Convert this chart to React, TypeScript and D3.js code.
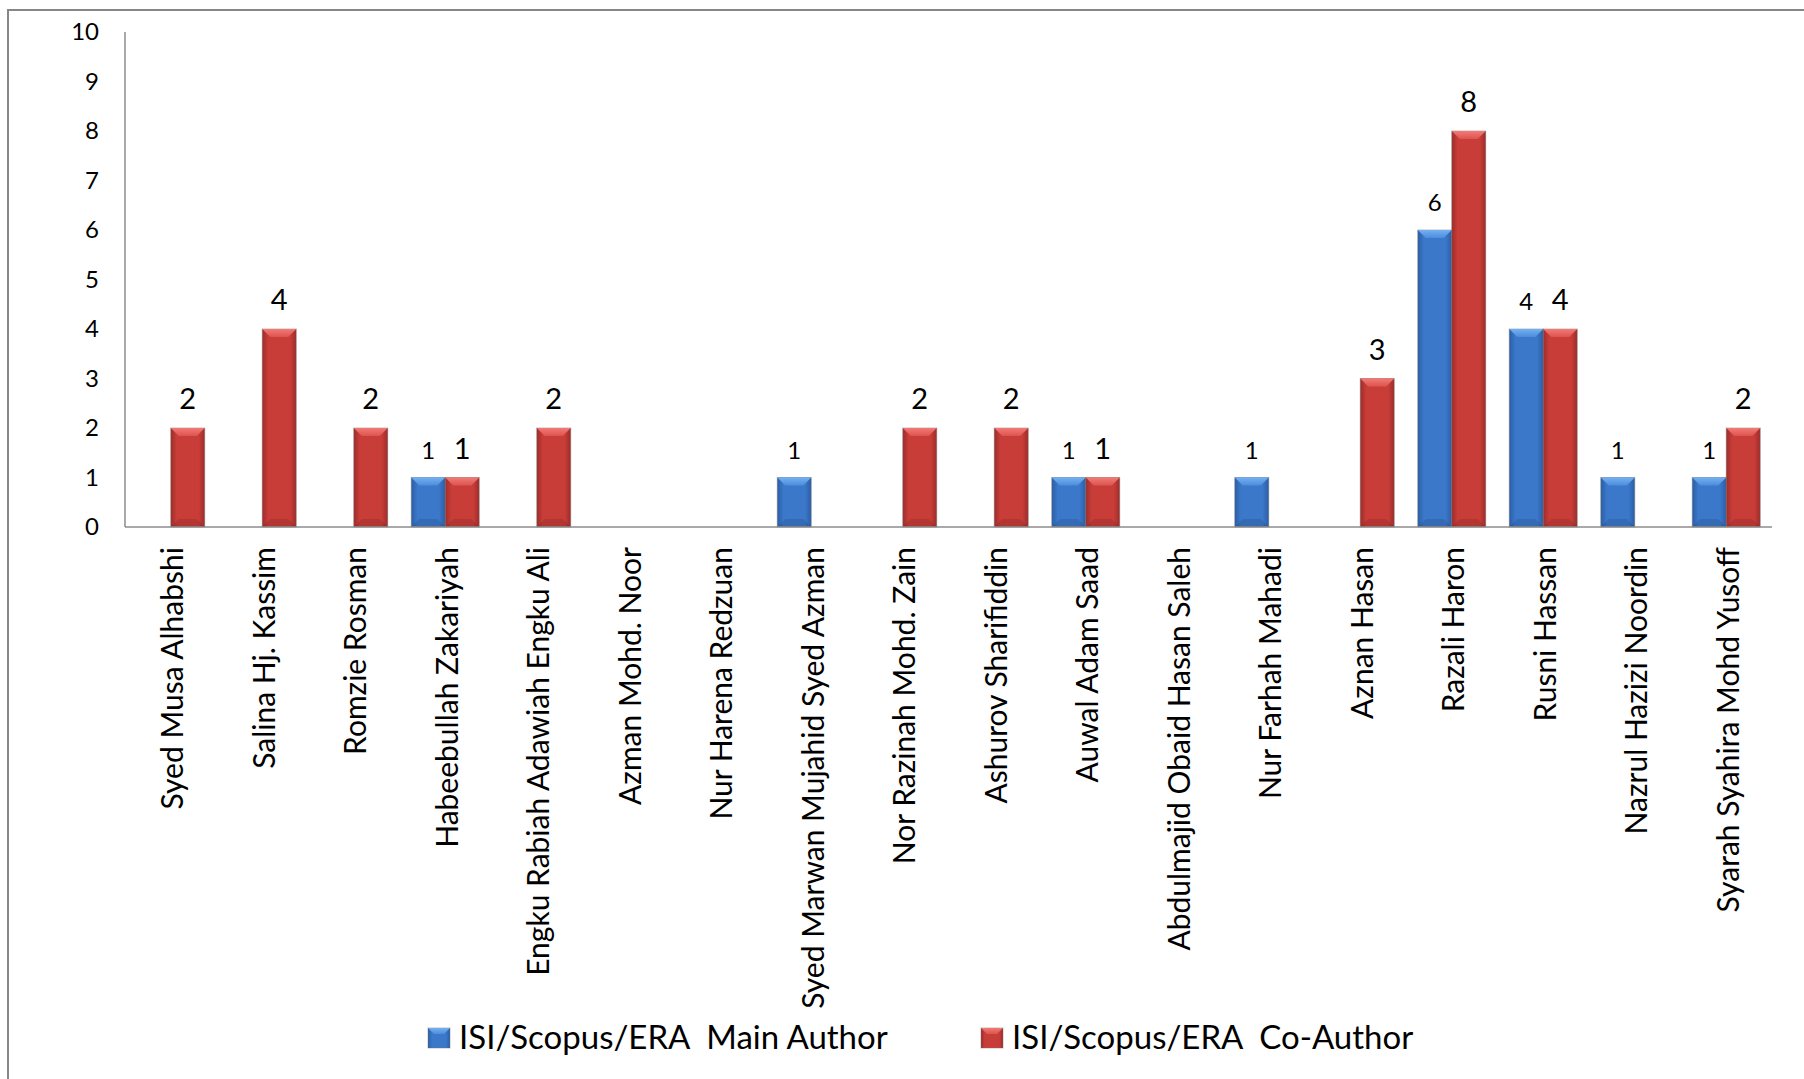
import * as d3 from 'd3';

// Authors on the x axis, in drawing order
const authors = [
  'Syed Musa Alhabshi',
  'Salina Hj. Kassim',
  'Romzie Rosman',
  'Habeebullah Zakariyah',
  'Engku Rabiah Adawiah Engku Ali',
  'Azman Mohd. Noor',
  'Nur Harena Redzuan',
  'Syed Marwan Mujahid Syed Azman',
  'Nor Razinah Mohd. Zain',
  'Ashurov Sharifiddin',
  'Auwal Adam Saad',
  'Abdulmajid Obaid Hasan Saleh',
  'Nur Farhah Mahadi',
  'Aznan Hasan',
  'Razali Haron',
  'Rusni Hassan',
  'Nazrul Hazizi Noordin',
  'Syarah Syahira Mohd Yusoff',
];

const mainAuthor = [0, 0, 0, 1, 0, 0, 0, 1, 0, 0, 1, 0, 1, 0, 6, 4, 1, 1];
const coAuthor = [2, 4, 2, 1, 2, 0, 0, 0, 2, 2, 1, 0, 0, 3, 8, 4, 0, 2];

const seriesNames = ['ISI/Scopus/ERA  Main Author', 'ISI/Scopus/ERA  Co-Author'];
const yTicks = [0, 1, 2, 3, 4, 5, 6, 7, 8, 9, 10];

const W = 1804;
const H = 1079;
const FONT = 'Lato, "Open Sans", sans-serif';

const palette = [
  { id: 'blue', edge: '#2a5ea6', mid: '#3b78c9', top0: '#74b0f2', top1: '#4c8ddc', label: 24, legendX: 428 },
  { id: 'red', edge: '#9e2c29', mid: '#c93d39', top0: '#f27a76', top1: '#dc5450', label: 29, legendX: 981 },
];

export default function App() {
  const x = d3.scaleBand<string>().domain(authors).range([125, 1772]).padding(0);
  const xs = d3
    .scaleBand<number>()
    .domain([0, 1])
    .range([0, x.bandwidth()])
    .paddingInner(0)
    .paddingOuter(0.346);
  const y = d3.scaleLinear().domain([0, 10]).range([527, 32]);

  const series = [mainAuthor, coAuthor];

  const bar = (value: number, i: number, s: number) => {
    if (!value) return null;
    const bx = (x(authors[i]) || 0) + (xs(s) || 0);
    const bw = xs.bandwidth();
    const top = y(value);
    const h = y(0) - top;
    const b = Math.min(8, h / 2);
    const c = palette[s];
    return (
      <g key={`${s}-${i}`}>
        <rect x={bx} y={top} width={bw} height={h} fill={`url(#body-${c.id})`} stroke="#6f6f6f" strokeOpacity={0.45} strokeWidth={1} />
        <polygon
          points={`${bx},${top} ${bx + bw},${top} ${bx + bw - b},${top + b} ${bx + b},${top + b}`}
          fill={`url(#cap-${c.id})`}
        />
        <polygon
          points={`${bx},${y(0)} ${bx + bw},${y(0)} ${bx + bw - b},${y(0) - b} ${bx + b},${y(0) - b}`}
          fill="#000"
          opacity={0.1}
        />
        <text x={bx + bw / 2} y={top - 19} textAnchor="middle" fontSize={c.label} fill="#000">
          {value}
        </text>
      </g>
    );
  };

  return (
    <svg
      width={W}
      height={H}
      style={{ position: 'absolute', left: 0, top: 0, background: '#fff' }}
      fontFamily={FONT}
    >
      <defs>
        {palette.map((c) => (
          <g key={c.id}>
            <linearGradient id={`body-${c.id}`} x1="0" x2="1" y1="0" y2="0">
              <stop offset="0" stopColor={c.edge} />
              <stop offset="0.18" stopColor={c.mid} />
              <stop offset="0.82" stopColor={c.mid} />
              <stop offset="1" stopColor={c.edge} />
            </linearGradient>
            <linearGradient id={`cap-${c.id}`} x1="0" x2="0" y1="0" y2="1">
              <stop offset="0" stopColor={c.top0} />
              <stop offset="1" stopColor={c.top1} />
            </linearGradient>
          </g>
        ))}
      </defs>

      {/* chart frame, cut off at right and bottom */}
      <rect x={8} y={10} width={W} height={H} fill="none" stroke="#878787" strokeWidth={2} />

      {/* y axis */}
      <line x1={125} x2={125} y1={y(10)} y2={y(0)} stroke="#8c8c8c" strokeWidth={1.5} />
      {yTicks.map((t) => (
        <text key={t} x={99} y={y(t)} dy="0.35em" textAnchor="end" fontSize={24} fill="#000">
          {t}
        </text>
      ))}

      {/* bars */}
      {series.map((vals, s) => vals.map((v, i) => bar(v, i, s)))}

      {/* baseline */}
      <line x1={125} x2={1772} y1={y(0)} y2={y(0)} stroke="#8c8c8c" strokeWidth={1.5} />

      {/* category labels */}
      {authors.map((a) => (
        <text
          key={a}
          transform={`translate(${(x(a) || 0) + x.bandwidth() / 2},547) rotate(-90)`}
          textAnchor="end"
          dy="0.42em"
          fontSize={30}
          fill="#000"
        >
          {a}
        </text>
      ))}

      {/* legend */}
      {seriesNames.map((name, s) => {
        const c = palette[s];
        const lx = c.legendX;
        return (
          <g key={name}>
            <rect x={lx} y={1028} width={22} height={20} fill={`url(#body-${c.id})`} stroke="#6f6f6f" strokeOpacity={0.45} />
            <polygon
              points={`${lx},1028 ${lx + 22},1028 ${lx + 16},1034 ${lx + 6},1034`}
              fill={`url(#cap-${c.id})`}
            />
            <text x={lx + 31} y={1049} fontSize={33} fill="#000" style={{ whiteSpace: 'pre' }}>
              {name}
            </text>
          </g>
        );
      })}
    </svg>
  );
}
